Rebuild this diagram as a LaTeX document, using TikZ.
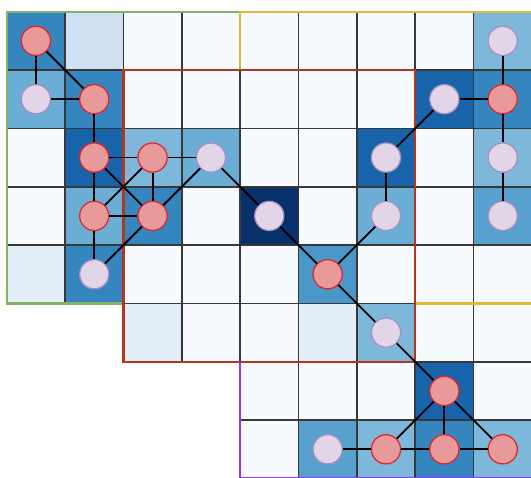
\documentclass[tikz,border=0pt]{standalone}
\usepackage{tikz}
\usetikzlibrary{arrows.meta, calc, positioning}
\definecolor{blPale}{HTML}{F7FBFF}
\definecolor{blFaint}{HTML}{E3EEF9}
\definecolor{blLight}{HTML}{CFE1F2}
\definecolor{blSky}{HTML}{7DB8DA}
\definecolor{blSoft}{HTML}{6AAED6}
\definecolor{blMedium}{HTML}{58A1CF}
\definecolor{blMid}{HTML}{4A98C9}
\definecolor{blStrong}{HTML}{3585BF}
\definecolor{blDeep}{HTML}{1764AB}
\definecolor{blNavy}{HTML}{08306B}
\definecolor{gridGrey}{HTML}{383838}
\definecolor{siteRed}{HTML}{E8999A}
\definecolor{siteRedLine}{HTML}{E0262A}
\definecolor{siteLav}{HTML}{E1D5E7}
\definecolor{siteLavLine}{HTML}{A98FBF}
\definecolor{zoneGreen}{HTML}{82B366}
\definecolor{zoneYellow}{HTML}{E0B83C}
\definecolor{zoneRed}{HTML}{B5361C}
\definecolor{zonePurple}{HTML}{9B30FF}
\tikzset{
  % cells of the lattice, the zones round them, and the sites on top
  cell/.style      = {draw=gridGrey, line width=0.85pt},
  zone/.style      = {line width=1.1pt, line join=miter},
  redsite/.style   = {circle, draw=siteRedLine, fill=siteRed, line width=0.6pt,
                      minimum size=0.5cm, inner sep=0pt},
  lavsite/.style   = {circle, draw=siteLavLine, fill=siteLav, line width=0.6pt,
                      minimum size=0.5cm, inner sep=0pt},
  link/.style      = {black, line width=0.9pt},
}

\begin{document}
\begin{tikzpicture}[x=1cm,y=1cm]
  \useasboundingbox (-0.115,-7.99) rectangle (8.985,0.2);
  % empty cells, row by row
  \foreach \r/\first in {0/0,1/0,2/0,3/0,4/0,5/2,6/4,7/4}
    \foreach \c in {\first,...,8}
      \filldraw[cell, fill=blPale] (\c,-\r) rectangle ++(1,-1);
  % shaded cells
  \foreach \r/\c/\k in {0/0/blStrong, 0/1/blLight, 0/8/blSky,
                        1/0/blSoft, 1/1/blStrong, 1/7/blDeep, 1/8/blStrong,
                        2/1/blDeep, 2/2/blSky, 2/3/blSoft, 2/6/blDeep, 2/8/blSky,
                        3/1/blSoft, 3/2/blStrong, 3/4/blNavy, 3/6/blSoft, 3/8/blMedium,
                        4/0/blFaint, 4/1/blStrong, 4/5/blMid,
                        5/2/blFaint, 5/5/blFaint, 5/6/blSky,
                        6/7/blDeep,
                        7/5/blMedium, 7/6/blSky, 7/7/blStrong, 7/8/blSky}
    \filldraw[cell, fill=\k] (\c,-\r) rectangle ++(1,-1);
  % zones
  \draw[zone, zoneGreen] (2,-5) -- (0,-5) -- (0,0) -- (4,0);
  \draw[zone, zoneYellow] (4,-1) -- (4,0) -- (9,0) -- (9,-5) -- (7,-5);
  \draw[zone, zonePurple] (4,-6) -- (4,-8) -- (9,-8) -- (9,-6);
  \draw[zone, zoneRed] (2,-1) rectangle (7,-6);
  % sites
  \foreach \r/\c/\s in {0/0/redsite, 1/0/lavsite, 1/1/redsite,
                        2/1/redsite, 2/2/redsite, 2/3/lavsite,
                        3/1/redsite, 3/2/redsite, 4/1/lavsite,
                        3/4/lavsite, 4/5/redsite, 3/6/lavsite, 2/6/lavsite,
                        1/7/lavsite, 1/8/redsite, 0/8/lavsite, 2/8/lavsite, 3/8/lavsite,
                        5/6/lavsite, 6/7/redsite,
                        7/5/lavsite, 7/6/redsite, 7/7/redsite, 7/8/redsite}
    \node[\s] (n\r\c) at (\c+0.5,-\r-0.5) {};
  % bonds between sites
  \foreach \a/\b in {n00/n10, n00/n11, n10/n11, n11/n21, n21/n22, n22/n23,
                     n21/n31, n21/n32, n22/n31, n22/n32, n31/n32, n31/n41,
                     n41/n32, n32/n23, n23/n34, n34/n45, n45/n36, n36/n26,
                     n26/n17, n17/n18, n08/n18, n18/n28, n28/n38,
                     n45/n56, n56/n67, n67/n76, n67/n77, n67/n78,
                     n75/n76, n76/n77, n77/n78}
    \draw[link] (\a) -- (\b);
\end{tikzpicture}
\end{document}
